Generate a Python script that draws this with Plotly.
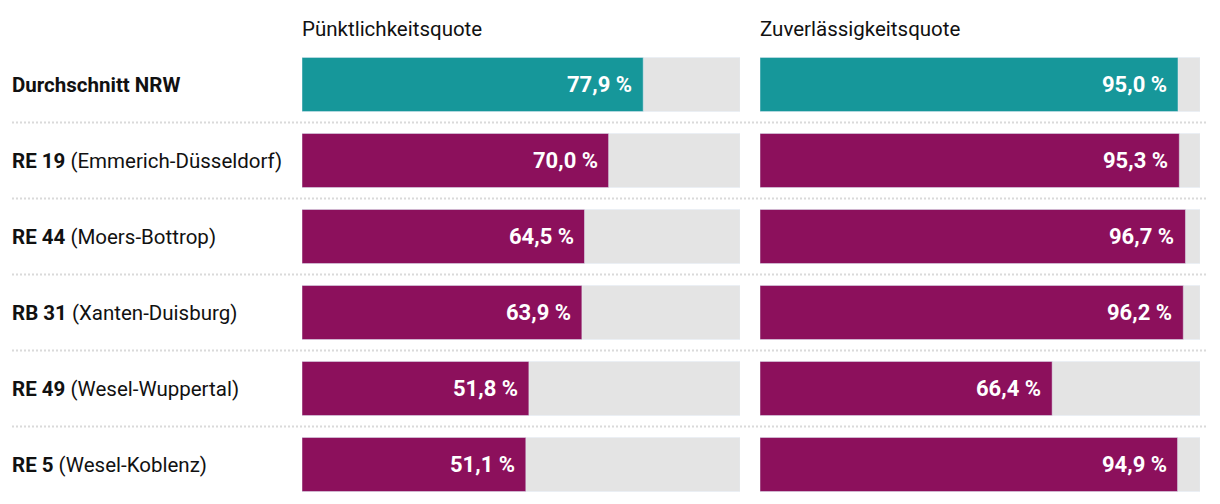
import plotly.graph_objects as go

routes_bold = ["Durchschnitt NRW", "RE 19", "RE 44", "RB 31", "RE 49", "RE 5"]
routes_rest = ["", " (Emmerich-Düsseldorf)", " (Moers-Bottrop)", " (Xanten-Duisburg)", " (Wesel-Wuppertal)", " (Wesel-Koblenz)"]
puenktlichkeit = [77.9, 70.0, 64.5, 63.9, 51.8, 51.1]
zuverlaessigkeit = [95.0, 95.3, 96.7, 96.2, 66.4, 94.9]
headers = ["Pünktlichkeitsquote", "Zuverlässigkeitsquote"]

OFF = 8  # browser body margin
W, H = 1220 - OFF, 504 - OFF
FONT = "Roboto, sans-serif"
TEAL = "#16979a"
PURPLE = "#8c105c"
GRAY = "#e4e4e4"

def px(x):
    return (x - OFF) / W

rows = list(range(len(routes_bold)))
colors = [TEAL] + [PURPLE] * (len(rows) - 1)
pitch = 76.0
c0 = 84.5 - OFF
yrange = [(H - c0) / pitch, -c0 / pitch]
bw = 54 / pitch

fig = go.Figure()
cols = [(puenktlichkeit, "x", 302, 740), (zuverlaessigkeit, "x2", 760, 1200)]
for vals, xa, x0, x1 in cols:
    fig.add_trace(go.Bar(x=[100] * len(rows), y=rows, orientation="h", marker_color=GRAY,
                         width=bw, xaxis=xa, yaxis="y", hoverinfo="skip", showlegend=False))
    fig.add_trace(go.Bar(x=vals, y=rows, orientation="h", marker_color=colors,
                         width=bw, xaxis=xa, yaxis="y", hoverinfo="skip", showlegend=False))
    for i, v in zip(rows, vals):
        fig.add_annotation(x=v, y=i, xref=xa, yref="y", text=("%.1f %%" % v).replace(".", ","),
                           showarrow=False, xanchor="right", xshift=-9,
                           font=dict(family=FONT, size=22, color="white", weight="bold"))

for h, (_, xa, x0, x1) in zip(headers, cols):
    fig.add_annotation(x=px(x0) - 2 / W, y=1 - (29 - OFF) / H, xref="paper", yref="paper", text=h,
                       showarrow=False, xanchor="left", yanchor="middle",
                       font=dict(family=FONT, size=20.5, color="#111"))

for i, b, r in zip(rows, routes_bold, routes_rest):
    fig.add_annotation(x=px(12) - 2 / W, y=i, xref="paper", yref="y", text="<b>%s</b>%s" % (b, r),
                       showarrow=False, xanchor="left", yanchor="middle",
                       font=dict(family=FONT, size=20.5, color="#111"))

for i in rows[:-1]:
    fig.add_shape(type="line", xref="paper", yref="y", x0=px(12), x1=px(1208), y0=i + 0.5, y1=i + 0.5,
                  line=dict(color="#dadada", width=2, dash="2px,2px"), layer="below")

fig.update_layout(
    width=W, height=H, margin=dict(l=0, r=0, t=0, b=0),
    paper_bgcolor="white", plot_bgcolor="white", barmode="overlay",
    xaxis=dict(domain=[px(302), px(740)], range=[0, 100], visible=False, fixedrange=True),
    xaxis2=dict(domain=[px(760), px(1200)], range=[0, 100], visible=False, fixedrange=True),
    yaxis=dict(range=yrange, visible=False, fixedrange=True),
    font=dict(family=FONT),
)
fig.write_html("out.html", config={"displayModeBar": False})
